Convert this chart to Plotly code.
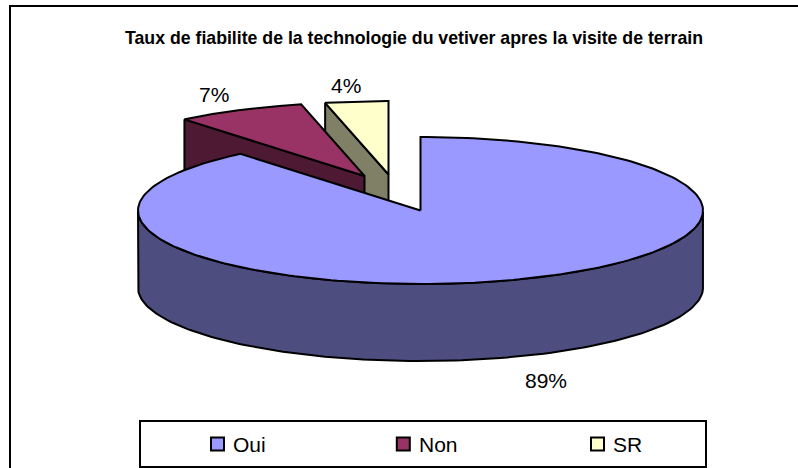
import numpy as np
import plotly.graph_objects as go

categories = ["Oui", "Non", "SR"]
values = [89.0, 7.4, 3.6]
labels = ["89%", "7%", "4%"]
top_colors = ["#9999FF", "#993366", "#FFFFCC"]
side_colors = ["#4D4D80", "#4D1933", "#808066"]
title_text = "Taux de fiabilite de la technologie du vetiver apres la visite de terrain"

W, H = 798, 468
RX, RY, DEPTH = 282.5, 73.5, 77
centers = {"Oui": (420.5, 210.5), "Non": (364.5, 176.0), "SR": (388.5, 174.5)}
label_pos = {"Oui": (546, 380), "Non": (213.5, 94), "SR": (345.5, 85)}
legend_x = {"Oui": 217.5, "Non": 403.3, "SR": 597.5}
LEG_Y = 444


def pt(cx, cy, theta):
    return cx + RX * np.sin(theta), cy - RY * np.cos(theta)


fig = go.Figure()
BLACK = dict(color="black", width=2)


def poly(xs, ys, fill):
    fig.add_trace(go.Scatter(x=list(xs) + [xs[0]], y=list(ys) + [ys[0]], mode="lines",
                             fill="toself", fillcolor=fill, line=BLACK,
                             hoverinfo="skip", showlegend=False))


total = sum(values)
ends = np.cumsum(values) / total * 2 * np.pi
starts = np.concatenate([[0], ends[:-1]])

# back slices first, the big slice last
for i in [2, 1, 0]:
    name = categories[i]
    cx, cy = centers[name]
    th = np.linspace(starts[i], ends[i], 240)
    ax, ay = pt(cx, cy, th)
    if i == 0:
        # outer wall: only the front half of the rim is visible
        front = th[(th >= np.pi / 2) & (th <= 3 * np.pi / 2)]
        fx, fy = pt(cx, cy, front)
        poly(np.concatenate([fx, fx[::-1]]), np.concatenate([fy, fy[::-1] + DEPTH]), side_colors[i])
    else:
        # cut face running from the rim to the centre
        sx, sy = pt(cx, cy, starts[i])
        poly([sx, cx, cx, sx], [sy, cy, cy + DEPTH, sy + DEPTH], side_colors[i])
    poly(np.concatenate([[cx], ax]), np.concatenate([[cy], ay]), top_colors[i])

# legend keys, legend text and value labels
for i, name in enumerate(categories):
    fig.add_trace(go.Scatter(x=[legend_x[name]], y=[LEG_Y], mode="markers",
                             marker=dict(symbol="square", size=13, color=top_colors[i],
                                         line=dict(color="black", width=2)),
                             hoverinfo="skip", showlegend=False))
    fig.add_annotation(x=legend_x[name] + 13.5, y=LEG_Y, text=name, showarrow=False, xanchor="left",
                       yanchor="middle", xshift=0, font=dict(family="Liberation Sans", size=21, color="black"))
    lx, ly = label_pos[name]
    fig.add_annotation(x=lx, y=ly, text=labels[i], showarrow=False, xanchor="center", yanchor="middle",
                       font=dict(family="Liberation Sans", size=21, color="black"))

fig.update_layout(
    width=W, height=H, margin=dict(l=0, r=0, t=0, b=0),
    paper_bgcolor="white", plot_bgcolor="white", showlegend=False,
    title=dict(text=title_text, x=414 / W, xanchor="center", y=1 - 37 / H, yanchor="middle",
               font=dict(family="Liberation Sans", size=19, color="black", weight="bold")),
    xaxis=dict(range=[0, W], visible=False, fixedrange=True),
    yaxis=dict(range=[H, 0], visible=False, fixedrange=True),
    shapes=[
        dict(type="rect", x0=10, y0=6, x1=830, y1=500, line=dict(color="black", width=2), layer="below"),
        dict(type="rect", x0=140, y0=421, x1=706, y1=467, line=dict(color="black", width=2), layer="below"),
    ],
)
# the page's default margin would shift the chart; the reference title is a narrow face
post = """
document.body.style.margin = '0';
document.querySelectorAll('.gtitle').forEach(function (t) {
  t.setAttribute('lengthAdjust', 'spacingAndGlyphs');
  t.setAttribute('textLength', '578');
});
"""
fig.write_html("out.html", config={"displayModeBar": False}, post_script=post)
